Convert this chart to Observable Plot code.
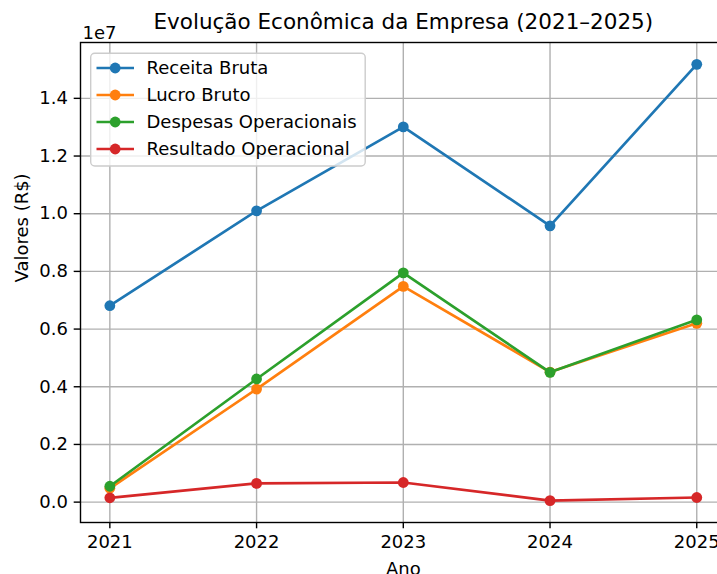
<!DOCTYPE html>
<html>
<head>
<meta charset="utf-8">
<script src="https://cdn.jsdelivr.net/npm/d3@7"></script>
<script src="https://cdn.jsdelivr.net/npm/@observablehq/plot@0.6"></script>
<style>
  html, body { margin: 0; padding: 0; background: white; }
  #chart svg { display: block; }
</style>
</head>
<body>
<div id="chart"></div>
<script>
const titulo = "Evolução Econômica da Empresa (2021–2025)";
const anos = [2021, 2022, 2023, 2024, 2025];
const receitaBruta = [6.81e6, 10.10e6, 13.01e6, 9.58e6, 15.18e6];
const lucroBruto = [0.48e6, 3.92e6, 7.48e6, 4.51e6, 6.20e6];
const despesasOperacionais = [0.55e6, 4.27e6, 7.95e6, 4.50e6, 6.32e6];
const resultadoOperacional = [0.15e6, 0.65e6, 0.68e6, 0.05e6, 0.16e6];
const seriesNomes = ["Receita Bruta", "Lucro Bruto", "Despesas Operacionais", "Resultado Operacional"];
const seriesCores = ["#1f77b4", "#ff7f0e", "#2ca02c", "#d62728"];
const yTicks = [0, 0.2e7, 0.4e7, 0.6e7, 0.8e7, 1.0e7, 1.2e7, 1.4e7];

const valores = [receitaBruta, lucroBruto, despesasOperacionais, resultadoOperacional];
const series = seriesNomes.map((nome, i) => anos.map((ano, j) => ({ano, valor: valores[i][j], serie: nome})));

const all = valores.flat();
const yMin = d3.min(all), yMax = d3.max(all);
const yPad = (yMax - yMin) * 0.05;
const xPad = (d3.max(anos) - d3.min(anos)) * 0.05;

const FS = 18;
const TICK = 6.3;
const LW = 2.7;
const R = 5.4;
const marks = [
  Plot.gridY(yTicks, {stroke: "#b0b0b0", strokeOpacity: 1, strokeWidth: 1.4}),
  Plot.gridX(anos, {stroke: "#b0b0b0", strokeOpacity: 1, strokeWidth: 1.4}),
];
series.forEach((s, i) => {
  marks.push(Plot.line(s, {x: "ano", y: "valor", stroke: seriesCores[i], strokeWidth: LW}));
  marks.push(Plot.dot(s, {x: "ano", y: "valor", fill: seriesCores[i], r: R, stroke: "none"}));
});
marks.push(
  Plot.frame({stroke: "black", strokeWidth: 1.4}),
  Plot.axisY(yTicks, {tickSize: TICK, tickPadding: TICK, tickFormat: d => (d / 1e7).toFixed(1), label: null, fontSize: FS, stroke: "black", strokeWidth: 1.4}),
  Plot.axisX(anos, {tickSize: TICK, tickPadding: TICK, tickFormat: d => String(d), label: null, fontSize: FS, stroke: "black", strokeWidth: 1.4}),
  Plot.text([titulo], {frameAnchor: "top", dy: -20, fontSize: 21.5, lineAnchor: "middle", fill: "black"}),
  Plot.text(["1e7"], {frameAnchor: "top-left", dx: 2, dy: -9, fontSize: FS, lineAnchor: "middle", textAnchor: "start", fill: "black"}),
  Plot.text(["Valores (R$)"], {frameAnchor: "left", dx: -58, rotate: -90, fontSize: FS, lineAnchor: "middle", fill: "black"}),
  Plot.text(["Ano"], {frameAnchor: "bottom", dy: 40, fontSize: FS, lineAnchor: "top", fill: "black"})
);

const chart = Plot.plot({
  width: 717,
  height: 574,
  marginLeft: 80,
  marginRight: -8.6,
  marginTop: 42,
  marginBottom: 52,
  style: {fontFamily: "'DejaVu Sans', sans-serif", fontSize: FS + "px", background: "white", color: "black", overflow: "hidden"},
  x: {domain: [d3.min(anos) - xPad, d3.max(anos) + xPad]},
  y: {domain: [yMin - yPad, yMax + yPad]},
  marks
});
document.getElementById("chart").appendChild(chart);

// Legend (upper left), matplotlib style
const svg = d3.select(chart);
const lg = svg.append("g").attr("font-family", "'DejaVu Sans', sans-serif").attr("font-size", FS).attr("text-anchor", "start");
const box = {x: 90.7, y: 53.3, w: 274.5, h: 112.7};
lg.append("rect").attr("x", box.x).attr("y", box.y).attr("width", box.w).attr("height", box.h)
  .attr("rx", 4).attr("fill", "white").attr("fill-opacity", 0.8).attr("stroke", "#cccccc").attr("stroke-width", 1.4);
seriesNomes.forEach((nome, i) => {
  const cy = 68 + i * 27;
  lg.append("line").attr("x1", 96.5).attr("x2", 134).attr("y1", cy).attr("y2", cy)
    .attr("stroke", seriesCores[i]).attr("stroke-width", LW);
  lg.append("circle").attr("cx", 115.2).attr("cy", cy).attr("r", R).attr("fill", seriesCores[i]);
  lg.append("text").attr("x", 146.5).attr("y", cy).attr("dy", "0.35em").attr("text-anchor", "start").attr("fill", "black").text(nome);
});
</script>
</body>
</html>
